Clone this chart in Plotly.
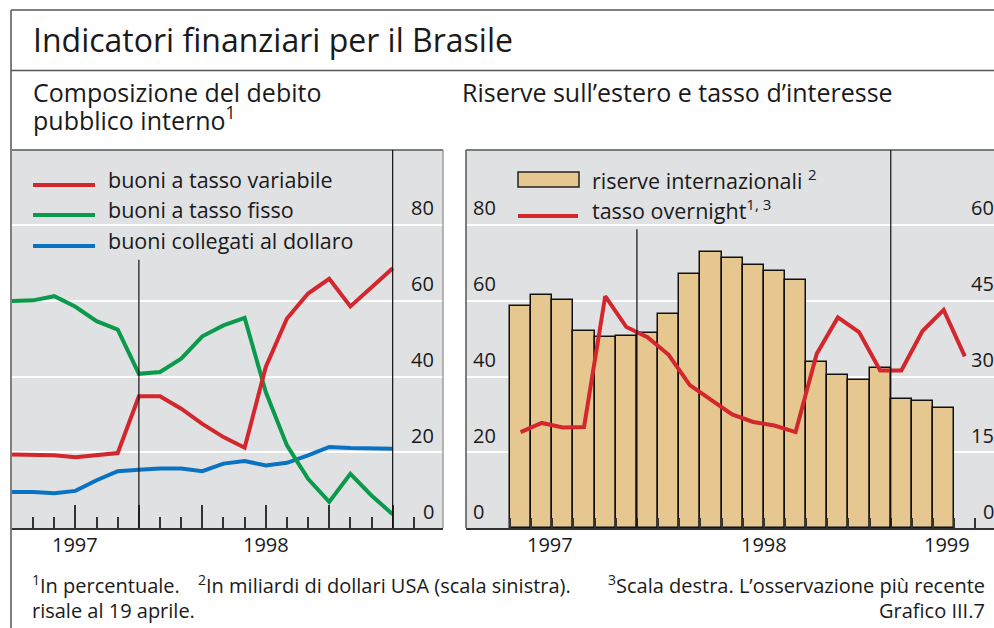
import plotly.graph_objects as go

W, H = 994, 628

# ---------------- data ----------------
# Left panel: composition of domestic public debt (%), 19 monthly observations
debt_variable = [19.4, 19.4, 19.2, 18.7, 19.2, 19.8, 34.8, 34.8, 31.5, 27.5, 24.0, 21.2,
                 42.5, 55.3, 61.9, 65.8, 58.5, 63.6, 68.6]
debt_fixed = [59.9, 60.1, 61.2, 58.4, 54.6, 52.4, 40.7, 41.2, 44.7, 50.6, 53.5, 55.5,
              35.9, 21.8, 13.0, 6.9, 14.3, 8.6, 3.6]
debt_dollar = [9.5, 9.5, 9.2, 9.8, 12.6, 15.0, 15.4, 15.7, 15.7, 15.0, 17.0, 17.7,
               16.5, 17.2, 19.2, 21.4, 21.1, 20.9, 20.9]

# Right panel: international reserves (USD bn, left scale), overnight rate (%, right scale)
reserves = [58.6, 61.4, 60.3, 52.0, 50.3, 50.7, 51.6, 56.5, 67.0, 73.0, 71.2, 69.4,
            67.8, 65.4, 43.8, 40.3, 39.2, 42.3, 34.1, 33.5, 31.8]
overnight = [19.0, 20.8, 19.9, 20.0, 45.9, 39.8, 37.8, 34.3, 28.3, 25.3, 22.5, 21.0,
             20.3, 19.0, 34.5, 41.7, 38.8, 31.2, 31.2, 39.0, 43.2, 34.0]

left_ticks = [0, 20, 40, 60, 80]
right_ticks = [0, 15, 30, 45, 60]
year_labels = ["1997", "1998", "1999"]

# month positions (index of observation)
debt_x = list(range(len(debt_variable)))
res_x = [i + 0.5 for i in range(len(reserves))]
on_x = [i + 0.5 for i in range(len(overnight))]

# ---------------- style ----------------
FONT = "Open Sans"
TXT = "#1a1a1a"
FRAME = "#555555"
PANEL = "#e0e1e3"
RED = "#d3262d"
GREEN = "#0b9a4b"
BLUE = "#0a72c2"
BAR = "#e6c78f"


def px(p):
    return p / W


def py(p):
    return 1 - p / H


y_dom = [py(528), py(150)]
YMAX = 99.8

fig = go.Figure()

fig.add_trace(go.Scatter(x=debt_x, y=debt_dollar, mode="lines",
                         line=dict(color=BLUE, width=4), xaxis="x", yaxis="y"))
fig.add_trace(go.Scatter(x=debt_x, y=debt_fixed, mode="lines",
                         line=dict(color=GREEN, width=4), xaxis="x", yaxis="y"))
fig.add_trace(go.Scatter(x=debt_x, y=debt_variable, mode="lines",
                         line=dict(color=RED, width=4), xaxis="x", yaxis="y"))

fig.add_trace(go.Bar(x=res_x, y=reserves, width=1.0,
                     marker=dict(color=BAR, line=dict(color="#111111", width=1.5)),
                     xaxis="x2", yaxis="y2"))
fig.add_trace(go.Scatter(x=on_x, y=overnight, mode="lines",
                         line=dict(color=RED, width=4), xaxis="x2", yaxis="y3"))

left_major = [3, 6, 9, 12, 15, 18]
left_minor = [1, 2, 4, 5, 7, 8, 10, 11, 13, 14, 16, 17, 19]

fig.update_layout(
    width=W, height=H,
    margin=dict(l=0, r=0, t=0, b=0),
    paper_bgcolor="white",
    plot_bgcolor=PANEL,
    showlegend=False,
    bargap=0,
    xaxis=dict(domain=[px(12), px(443)], range=[0, 20.38], anchor="y",
               showgrid=False, zeroline=False, showline=True, linecolor="#333333", linewidth=1.5,
               ticks="inside", tickvals=left_major, ticklen=23, tickwidth=1.5, tickcolor="#333333",
               showticklabels=False,
               minor=dict(ticks="inside", tickvals=left_minor, ticklen=11, tickwidth=1.5,
                          tickcolor="#333333", showgrid=False)),
    yaxis=dict(domain=y_dom, range=[0, YMAX], anchor="x", tickvals=left_ticks[1:],
               showgrid=True, gridcolor="white", gridwidth=1.5, zeroline=False,
               showticklabels=False, ticks=""),
    xaxis2=dict(domain=[px(466), 1.0], range=[-2.08, 22.88], anchor="y2",
                showgrid=False, zeroline=False, showline=True, linecolor="#333333", linewidth=1.5,
                ticks="inside", tickvals=list(range(23)), ticklen=10, tickwidth=1.5,
                tickcolor="#333333", showticklabels=False),
    yaxis2=dict(domain=y_dom, range=[0, YMAX], anchor="x2", tickvals=left_ticks[1:],
                showgrid=True, gridcolor="white", gridwidth=1.5, zeroline=False,
                showticklabels=False, ticks=""),
    yaxis3=dict(overlaying="y2", side="right", anchor="x2", range=[0, YMAX * 0.75],
                showgrid=False, zeroline=False, showticklabels=False, ticks=""),
)

shapes = []


def pline(x0, y0, x1, y1, color=FRAME, width=1.5):
    shapes.append(dict(type="line", xref="paper", yref="paper",
                       x0=px(x0), y0=py(y0), x1=px(x1), y1=py(y1),
                       line=dict(color=color, width=width), layer="above"))


# outer frame
pline(11, 10, 11, 628)
pline(11, 10, 994, 10)
pline(11, 70.5, 994, 70.5)
# panel borders
pline(12, 150, 443, 150)
pline(466, 150, 994, 150)
pline(443, 150, 443, 528, color="#8a8a8a", width=1.2)
pline(466, 150, 466, 528)

# event lines
shapes.append(dict(type="line", xref="x", yref="y", x0=6, x1=6, y0=0, y1=70.8,
                   line=dict(color="#111111", width=1.2), layer="above"))
shapes.append(dict(type="line", xref="x", yref="y", x0=18, x1=18, y0=0, y1=YMAX,
                   line=dict(color="#111111", width=1.2), layer="above"))
shapes.append(dict(type="line", xref="x2", yref="y2", x0=6, x1=6, y0=0, y1=78.9,
                   line=dict(color="#111111", width=1.2), layer="above"))
shapes.append(dict(type="line", xref="x2", yref="y2", x0=18, x1=18, y0=0, y1=YMAX,
                   line=dict(color="#111111", width=1.2), layer="above"))

# legend swatches
for yy, col in [(185, RED), (215, GREEN), (246, BLUE)]:
    pline(33, yy, 95, yy, color=col, width=4)
shapes.append(dict(type="rect", xref="paper", yref="paper",
                   x0=px(518), x1=px(579), y0=py(187), y1=py(172),
                   fillcolor=BAR, line=dict(color="#222222", width=1.5), layer="above"))
pline(518, 216, 578, 216, color=RED, width=4)

fig.update_layout(shapes=shapes)

ann = []


def text(x, y, s, size, xanchor="left", yref="paper", xref="paper", yshift=0):
    ann.append(dict(x=x, y=y, xref=xref, yref=yref, text=s, showarrow=False,
                    xanchor=xanchor, yanchor="middle", yshift=yshift, borderpad=0,
                    font=dict(family=FONT, size=size, color=TXT)))


# titles
text(px(32), py(40), "Indicatori finanziari per il Brasile", 32)
text(px(32), py(91.5), "Composizione del debito", 25)
text(px(32), py(118), "pubblico interno<sup>1</sup>", 25)
text(px(461), py(91.5), "Riserve sull’estero e tasso d’interesse", 25)

# legends
text(px(107), py(179), "buoni a tasso variabile", 21.5)
text(px(107), py(209.5), "buoni a tasso fisso", 21.5)
text(px(107), py(240), "buoni collegati al dollaro", 21.5)
text(px(591), py(179), "riserve internazionali <sup>2</sup>", 21.5)
text(px(591), py(209.5), "tasso overnight<sup>1, 3</sup>", 21.5)

# y tick labels (sitting above their gridlines)
for v in left_ticks:
    text(px(435), v, str(v), 20, xanchor="right", yref="y", yshift=17)
    text(px(472), v, str(v), 20, xanchor="left", yref="y2", yshift=17)
for v in right_ticks:
    text(px(995), v, str(v), 20, xanchor="right", yref="y3", yshift=17)

# year labels
text(3, py(544), year_labels[0], 20, xanchor="center", xref="x")
text(12, py(544), year_labels[1], 20, xanchor="center", xref="x")
text(1.9, py(544), year_labels[0], 20, xanchor="center", xref="x2")
text(12.0, py(544), year_labels[1], 20, xanchor="center", xref="x2")
text(20.66, py(544), year_labels[2], 20, xanchor="center", xref="x2")

# footnotes
text(px(31), py(584), "<sup>1</sup>In percentuale.", 20)
text(px(197), py(584), "<sup>2</sup>In miliardi di dollari USA (scala sinistra).", 20)
text(px(986), py(584), "<sup>3</sup>Scala destra. L’osservazione più recente", 20, xanchor="right")
text(px(31), py(610), "risale al 19 aprile.", 20)
text(px(986), py(610), "Grafico III.7", 20, xanchor="right")

fig.update_layout(annotations=ann)

fig.write_html("out.html",
               config={"displayModeBar": False},
               post_script="document.body.style.margin='0';document.body.style.overflow='hidden';")
